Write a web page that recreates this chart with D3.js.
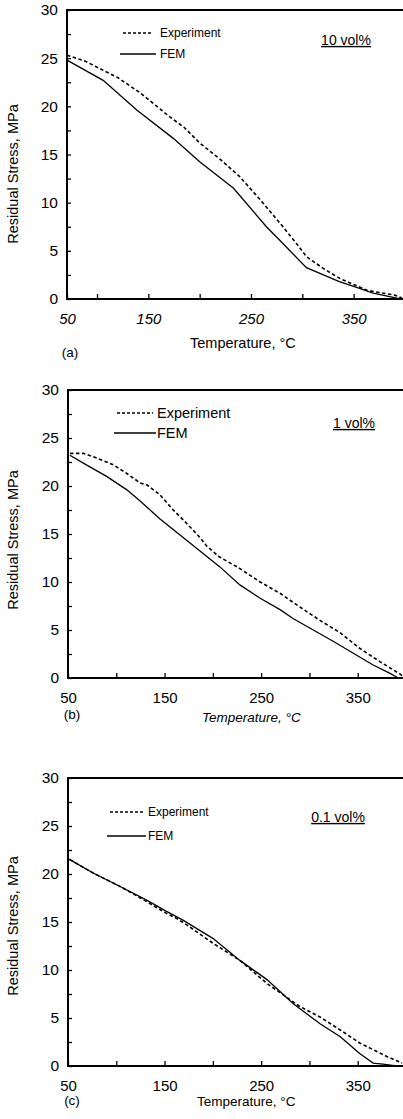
<!DOCTYPE html>
<html>
<head>
<meta charset="utf-8">
<script src="https://cdn.jsdelivr.net/npm/d3@7"></script>
<style>
  body { margin: 0; background: #fff; }
  svg { display: block; font-family: "Liberation Sans", Arial, sans-serif; }
</style>
</head>
<body>
<div id="chart"></div>
<script>
// ---- data (temperature in °C, stress in MPa) ----
const tempTicks = [50, 150, 250, 350];
const stressTicks = [0, 5, 10, 15, 20, 25, 30];
const volLabels = ['10 vol%', '1 vol%', '0.1 vol%'];
const panelTags = ['(a)', '(b)', '(c)'];

// (a) 10 vol%
const expA_T = [50, 80, 103, 120, 142, 171, 185, 200, 220, 239, 259, 278, 294, 304, 320, 337, 350, 363, 379, 390, 397];
const expA_S = [25.3, 24.7, 23.9, 23.0, 21.4, 18.9, 17.8, 16.2, 14.5, 12.7, 10.3, 7.9, 5.8, 4.4, 3.2, 2.1, 1.5, 0.9, 0.6, 0.4, 0.1];
const femA_T = [50, 106, 139, 174, 200, 233, 265, 278, 304, 336, 350, 369, 392, 400];
const femA_S = [24.8, 22.7, 19.6, 16.7, 14.25, 11.5, 7.5, 6.1, 3.25, 1.8, 1.3, 0.6, 0.1, 0];

// (b) 1 vol%
const expB_T = [52, 66, 80, 97, 111, 125, 132, 145, 159, 173, 187, 194, 207, 228, 249, 270, 290, 311, 332, 352, 373, 394, 398];
const expB_S = [23.4, 23.4, 22.9, 22.2, 21.3, 20.3, 20.1, 19.1, 17.5, 16.1, 14.6, 13.7, 12.6, 11.4, 10.0, 8.8, 7.4, 6.0, 4.7, 3.1, 1.7, 0.4, 0.1];
const femB_T = [52, 69, 90, 111, 125, 145, 166, 187, 207, 228, 249, 270, 283, 304, 325, 345, 366, 383, 392];
const femB_S = [23.2, 22.2, 21.0, 19.6, 18.4, 16.6, 14.9, 13.2, 11.6, 9.7, 8.3, 7.1, 6.2, 5.0, 3.8, 2.6, 1.35, 0.5, 0];

// (c) 0.1 vol%
const expC_T = [52, 76, 104, 125, 152, 162, 173, 200, 228, 242, 256, 273, 290, 311, 332, 352, 366, 380, 396];
const expC_S = [21.5, 20.1, 18.7, 17.5, 15.9, 15.4, 14.7, 12.8, 11.0, 9.8, 8.6, 7.4, 6.2, 5.1, 3.75, 2.4, 1.7, 1.0, 0.3];
const femC_T = [50, 76, 104, 131, 152, 169, 200, 228, 256, 283, 311, 332, 352, 366, 376, 390];
const femC_S = [21.6, 20.1, 18.7, 17.3, 16.1, 15.2, 13.3, 11.0, 9.0, 6.5, 4.4, 3.05, 1.3, 0.3, 0.2, 0];

// ---- layout of the three stacked panels ----
const width = 403, height = 1119;
// panel (a) is a bit squeezed at its left end in the scan, hence the 3-stop x range
const panels = [
  { top: 10,  bottom: 299,  xDomain: [50, 100, 400], xRange: [67, 97, 405], yTitle: 174, xTitle: [190, 343], tag: [70, 352],
    italicTicks: true, italicTitle: false, legX: [123, 153, 160], legY: [33, 54], legSize: 12, vol: [346, 40], volSize: 14,
    exp: [expA_T, expA_S], fem: [femA_T, femA_S] },
  { top: 390, bottom: 678,  xDomain: [50, 400], xRange: [68, 406], yTitle: 540, xTitle: [202, 717], tag: [72, 714],
    italicTicks: false, italicTitle: true, legX: [117, 153, 157], legY: [413, 433], legSize: 14.5, vol: [354, 423], volSize: 14,
    exp: [expB_T, expB_S], fem: [femB_T, femB_S] },
  { top: 778, bottom: 1066, xDomain: [50, 400], xRange: [68, 406], yTitle: 926, xTitle: [197, 1101], tag: [72, 1100],
    italicTicks: false, italicTitle: false, legX: [110, 143, 148], legY: [812, 836], legSize: 12, vol: [338, 817], volSize: 14,
    exp: [expC_T, expC_S], fem: [femC_T, femC_S] }
];

const svg = d3.select('#chart').append('svg')
  .attr('width', width)
  .attr('height', height);

const line = (x, y) => d3.line()
  .x(d => x(d[0]))
  .y(d => y(d[1]));

panels.forEach(function (p, i) {
  const left = p.xRange[0];
  const x = d3.scaleLinear().domain(p.xDomain).range(p.xRange);
  const y = d3.scaleLinear().domain([0, 30]).range([p.bottom, p.top]);
  const g = svg.append('g');

  // y axis, ticks every 2.5 pointing inward
  const yAxis = d3.axisLeft(y)
    .tickValues(d3.range(0, 30.01, 2.5))
    .tickSizeInner(-4)
    .tickSizeOuter(0)
    .tickPadding(9)
    .tickFormat(d => stressTicks.includes(d) ? d : '');
  g.append('g')
    .attr('transform', 'translate(' + left + ',0)')
    .call(yAxis)
    .call(a => a.select('.domain').remove())
    .call(a => a.selectAll('text').attr('font-size', 15.5).attr('fill', '#000'));

  // x axis, ticks every 50 pointing inward
  const xAxis = d3.axisBottom(x)
    .tickValues(d3.range(50, 401, 50))
    .tickSizeInner(-5)
    .tickSizeOuter(0)
    .tickPadding(14)
    .tickFormat(d => tempTicks.includes(d) ? d : '');
  g.append('g')
    .attr('transform', 'translate(0,' + p.bottom + ')')
    .call(xAxis)
    .call(a => a.select('.domain').remove())
    .call(a => a.selectAll('text').attr('font-size', 15).attr('fill', '#000')
      .style('font-style', p.italicTicks ? 'italic' : null));

  g.selectAll('.tick line').attr('stroke', '#000').attr('stroke-width', 1.3);

  // frame: left, bottom and top edges (right edge falls outside the scan)
  g.append('path')
    .attr('d', 'M' + (width + 5) + ',' + y(30) + 'H' + left + 'V' + y(0) + 'H' + (width + 5))
    .attr('fill', 'none')
    .attr('stroke', '#000')
    .attr('stroke-width', 2);

  // curves
  const mk = s => s[0].map((t, k) => [t, s[1][k]]);
  g.append('path')
    .datum(mk(p.fem))
    .attr('d', line(x, y))
    .attr('fill', 'none')
    .attr('stroke', '#000')
    .attr('stroke-width', 1.3);
  g.append('path')
    .datum(mk(p.exp))
    .attr('d', line(x, y))
    .attr('fill', 'none')
    .attr('stroke', '#000')
    .attr('stroke-width', 1.6)
    .attr('stroke-dasharray', '3.5,2.5');

  // legend
  g.append('line')
    .attr('x1', p.legX[0]).attr('x2', p.legX[1])
    .attr('y1', p.legY[0]).attr('y2', p.legY[0])
    .attr('stroke', '#000').attr('stroke-width', 1.6).attr('stroke-dasharray', '3,2');
  g.append('line')
    .attr('x1', p.legX[0] - 3).attr('x2', p.legX[1] + 3)
    .attr('y1', p.legY[1]).attr('y2', p.legY[1])
    .attr('stroke', '#000').attr('stroke-width', 1.3);
  g.append('text')
    .attr('x', p.legX[2]).attr('y', p.legY[0]).attr('dy', '0.35em')
    .attr('font-size', p.legSize)
    .text('Experiment');
  g.append('text')
    .attr('x', p.legX[2]).attr('y', p.legY[1]).attr('dy', '0.35em')
    .attr('font-size', p.legSize)
    .text('FEM');

  // volume fraction label, underlined
  g.append('text')
    .attr('x', p.vol[0]).attr('y', p.vol[1]).attr('dy', '0.35em')
    .attr('text-anchor', 'middle')
    .attr('font-size', p.volSize)
    .attr('text-decoration', 'underline')
    .text(volLabels[i]);

  // axis titles
  g.append('text')
    .attr('transform', 'translate(13,' + p.yTitle + ') rotate(-90)')
    .attr('text-anchor', 'middle')
    .attr('dy', '0.35em')
    .attr('font-size', 14.5)
    .text('Residual Stress, MPa');
  g.append('text')
    .attr('x', p.xTitle[0]).attr('y', p.xTitle[1]).attr('dy', '0.35em')
    .attr('font-size', i === 0 ? 14.5 : 13.5)
    .style('font-style', p.italicTitle ? 'italic' : null)
    .text('Temperature, °C');

  g.append('text')
    .attr('x', p.tag[0]).attr('y', p.tag[1]).attr('dy', '0.35em')
    .attr('text-anchor', 'middle')
    .attr('font-size', 13.5)
    .text(panelTags[i]);
});
</script>
</body>
</html>
